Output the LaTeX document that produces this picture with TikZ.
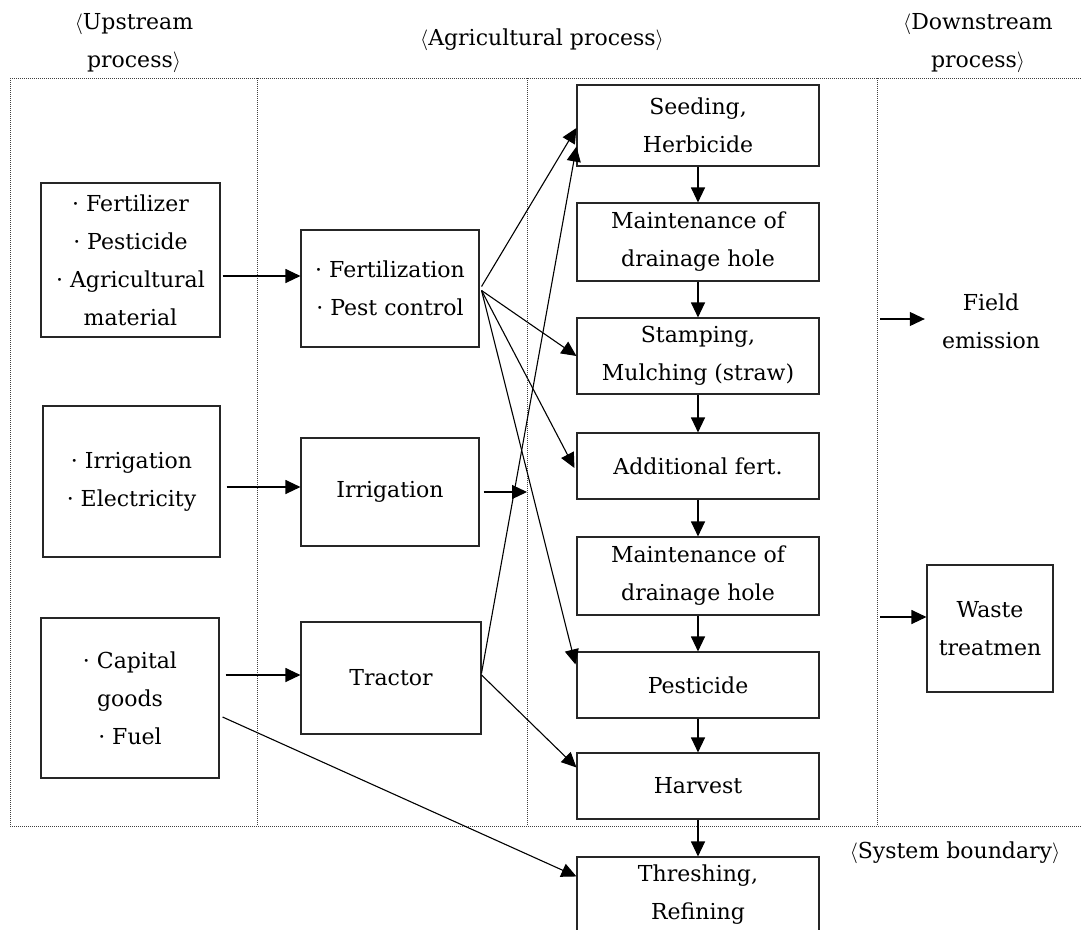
\documentclass[tikz,border=0pt]{standalone}
\usepackage{fontspec}
\setmainfont{DejaVu Serif}
\usetikzlibrary{arrows.meta,calc}
\newcommand{\la}{\ensuremath{\langle}}
\newcommand{\ra}{\ensuremath{\rangle}}
\begin{document}
\begin{tikzpicture}[x=1pt,y=-1pt,
  box/.style={draw=black!85, line width=1.1pt, inner sep=0pt, align=center,
    font=\fontsize{22}{38}\selectfont},
  lbl/.style={inner sep=0pt, align=center, font=\fontsize{22}{38}\selectfont},
  arr/.style={-{Triangle[length=15pt,width=14pt]}, line width=1.1pt},
  bnd/.style={line width=1pt, black!75, dash pattern=on 1pt off 1pt}]
\useasboundingbox (0,0) rectangle (1081,929);
\clip (0,0) rectangle (1081,929);

% system boundary
\draw[bnd] (10,78) -- (1081,78);
\draw[bnd] (10,826) -- (1081,826);
\foreach \xx in {10,257,527,877} \draw[bnd] (\xx,78) -- (\xx,826);

% headers
\node[lbl] (up) at (134,43) {\la Upstream\\process\ra};
\node[lbl] (ag) at (542,40) {\la Agricultural process\ra};
\node[lbl] (dn) at (978,43) {\la Downstream\\process\ra};
\node[lbl] (sb) at (955,853) {\la System boundary\ra};

% upstream boxes
\node[box, minimum width=179, minimum height=154] (fz) at (130.5,260)
  {· Fertilizer\\· Pesticide\\· Agricultural\\material};
\node[box, minimum width=177, minimum height=151] (ie) at (131.5,481.5)
  {· Irrigation\\· Electricity};
\node[box, minimum width=178, minimum height=160] (cap) at (130,698)
  {· Capital\\goods\\· Fuel};

% agricultural process boxes
\node[box, minimum width=178, minimum height=117] (fert) at (390,288.5)
  {· Fertilization\\· Pest control};
\node[box, minimum width=178, minimum height=108] (irr) at (390,492) {Irrigation};
\node[box, minimum width=180, minimum height=112] (tra) at (391,678) {Tractor};

% process column
\node[box, minimum width=242, minimum height=81] (seed) at (698,125.5) {Seeding,\\Herbicide};
\node[box, minimum width=242, minimum height=78] (m1) at (698,242) {Maintenance of\\drainage hole};
\node[box, minimum width=242, minimum height=76] (stm) at (698,356) {Stamping,\\Mulching (straw)};
\node[box, minimum width=242, minimum height=66] (addf) at (698,466) {Additional fert.};
\node[box, minimum width=242, minimum height=78] (m2) at (698,576) {Maintenance of\\drainage hole};
\node[box, minimum width=242, minimum height=66] (pest) at (698,685) {Pesticide};
\node[box, minimum width=242, minimum height=66] (harv) at (698,786) {Harvest};
\node[box, minimum width=242, minimum height=76] (thr) at (698,895) {Threshing,\\Refining};

% downstream
\node[lbl] (fe) at (991,321) {Field\\emission};
\node[box, minimum width=126, minimum height=127] (ws) at (990,628.5) {Waste\\treatmen};

% upstream -> agricultural
\coordinate (a1) at ([xshift=2pt,yshift=-16pt]fz.east);
\draw[arr] (a1) -- (a1 -| fert.west);
\coordinate (a2) at ([xshift=6pt,yshift=-5.5pt]ie.east);
\draw[arr] (a2) -- (a2 -| irr.west);
\coordinate (a3) at ([xshift=6pt,yshift=23pt]cap.east);
\draw[arr] (a3) -- (a3 -| tra.west);
\draw[arr] ([xshift=3pt,yshift=-19pt]cap.east) -- ([yshift=-20pt]thr.north west);

% fertilization fan
\draw[arr] ([xshift=2pt,yshift=2pt]fert.east) -- ([yshift=-2.5pt]seed.west);
\draw[arr] ([xshift=2pt,yshift=-2pt]fert.east) -- (stm.west);
\draw[arr] ([xshift=2pt,yshift=-2pt]fert.east) -- ([xshift=-2pt,yshift=-2pt]addf.west);
\draw[arr] ([xshift=2pt,yshift=-2pt]fert.east) -- ([xshift=-1pt,yshift=-13pt]pest.north west);

% irrigation
\coordinate (dv) at (527,492);
\draw[arr] ([xshift=4pt]irr.east) -- (dv);

% tractor
\draw[arr] ([yshift=5pt]tra.east) -- ([yshift=20pt]seed.south west);
\draw[arr] ([yshift=3pt]tra.east) -- ([yshift=-15pt]harv.north west);

% process chain
\draw[arr] (seed.south) -- (m1.north);
\draw[arr] (m1.south) -- (stm.north);
\draw[arr] (stm.south) -- (addf.north);
\draw[arr] (addf.south) -- (m2.north);
\draw[arr] (m2.south) -- (pest.north);
\draw[arr] (pest.south) -- (harv.north);
\draw[arr] (harv.south) -- (thr.north);

% downstream arrows
\coordinate (o1) at (880,319);
\coordinate (o1e) at ([xshift=-17pt]fe.west);
\draw[arr] (o1) -- (o1 -| o1e);
\coordinate (o2) at (880,617);
\draw[arr] (o2) -- (o2 -| ws.west);
\end{tikzpicture}
\end{document}
